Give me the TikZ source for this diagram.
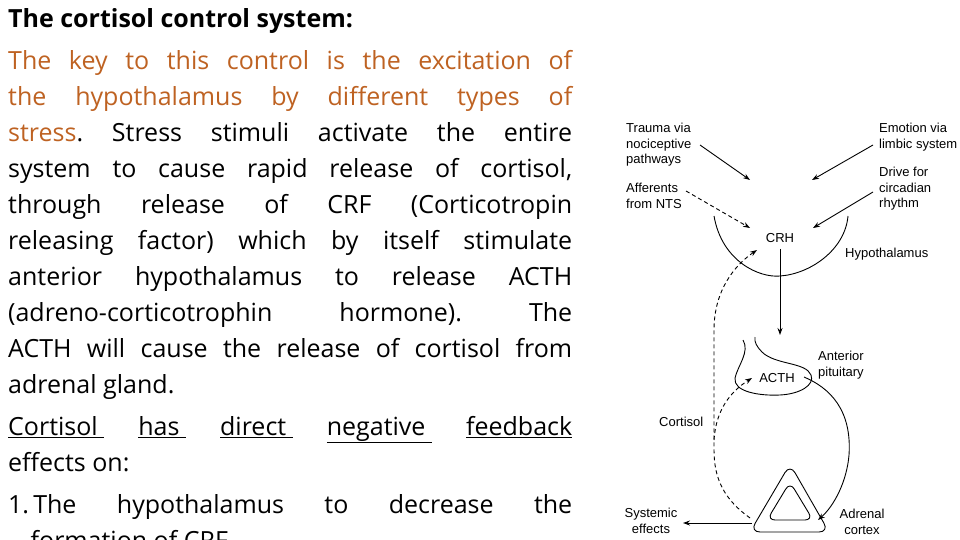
\documentclass[tikz,border=0pt]{standalone}
\usepackage{fontspec}
\setmainfont{Open Sans}
\newfontfamily\diag{Liberation Sans}
\usetikzlibrary{arrows.meta}
\definecolor{ortxt}{RGB}{190,98,34}
\frenchspacing
\begin{document}
\begin{tikzpicture}[x=1pt,y=-1pt,
  lbl/.style={font=\diag\fontsize{13}{15.5}\selectfont,inner sep=0pt,align=left},
  conn/.style={line width=0.9pt,-{Stealth[length=7pt,width=5pt]}},
  dconn/.style={conn,dash pattern=on 4pt off 3pt},
  shp/.style={line width=0.9pt}]
\useasboundingbox (0,0) rectangle (960,540);
\begin{scope}
\clip (0,0) rectangle (960,540);
\node[anchor=north west,inner sep=0pt,text width=564pt,align=justify,
  font=\fontsize{25}{36}\selectfont] (txt) at (8,8) {%
\hyphenpenalty=10000\exhyphenpenalty=10000\frenchspacing
\parskip=6pt\noindent\textbf{The cortisol control system:}\par
\noindent\textcolor{ortxt}{The key to this control is the excitation of\linebreak the hypothalamus by different types of\linebreak stress}. Stress stimuli activate the entire\linebreak system to cause rapid release of cortisol,\linebreak through release of CRF (Corticotropin\linebreak releasing factor) which by itself stimulate\linebreak anterior hypothalamus to release ACTH\linebreak (adreno-corticotrophin hormone). The\linebreak ACTH will cause the release of cortisol from\linebreak adrenal gland.\par
\noindent\underline{Cortisol\ }\hfill\underline{has\ }\hfill\underline{direct\ }\hfill\underline{negative\ }\hfill\underline{feedback}\linebreak
effects on:\par
\noindent 1.\,The hypothalamus to decrease the\linebreak
\hspace*{0.9em}formation of CRF\par};
\end{scope}
% diagram labels
\node[lbl,anchor=west] (trauma) at (626,145) {Trauma via\\nociceptive\\pathways};
\node[lbl,anchor=west] (aff) at (626,196) {Afferents\\from NTS};
\node[lbl,anchor=west] (emo) at (879,137) {Emotion via\\limbic system};
\node[lbl,anchor=west] (drive) at (879,189) {Drive for\\circadian\\rhythm};
\node[lbl] (crh) at (780,238) {CRH};
\node[lbl,anchor=west] (hyp) at (845,254) {Hypothalamus};
\node[lbl,anchor=west] (ant) at (818,365) {Anterior\\pituitary};
\node[lbl] (acth) at (777,378) {ACTH};
\node[lbl,anchor=west] (cort) at (659,422) {Cortisol};
\node[lbl,align=center] (sys) at (651,521) {Systemic\\effects};
\node[lbl,align=center] (adr) at (862,522) {Adrenal\\cortex};
\coordinate (t0) at (700,145);
\coordinate (t1) at (750,180);
\coordinate (e1) at (812,180);
\coordinate (a0) at (686,191);
\coordinate (a1) at (750,228);
\coordinate (d1) at (813,228);
\draw[conn] (t0) -- (t1);
\draw[conn] (873,145) -- (e1);
\draw[dconn] (a0) -- (a1);
\draw[conn] (873,192) -- (d1);
% hypothalamus
\draw[shp] (714,216) .. controls (722,262) and (760,278) .. (780,276) .. controls (810,274) and (845,250) .. (848,216);
\coordinate (pit) at (780,335);
\draw[conn] (crh.south) ++(0,6) -- (pit);
% pituitary
\draw[shp] (743,340) .. controls (750,352) and (738,365) .. (735,378) .. controls (733,392) and (760,396) .. (780,395) .. controls (800,394) and (815,385) .. (811,375) .. controls (806,362) and (775,365) .. (762,352) .. controls (757,347) and (754,342) .. (755,337);
% adrenal
\draw[shp,rounded corners=10pt] (790,464) -- (829,532) -- (750,532) -- cycle;
\draw[shp,rounded corners=8pt] (790,482) -- (813,520) -- (767,520) -- cycle;
\coordinate (adrin) at (818,520);
\draw[conn] (804,377) .. controls (830,388) and (852,410) .. (849,455) .. controls (847,480) and (835,505) .. (adrin);
% cortisol feedback
\coordinate (cbase) at (750,518);
\draw[dconn] (cbase) .. controls (725,500) and (714,480) .. (714,450) -- (714,330) .. controls (714,290) and (735,265) .. (757,250);
\draw[dconn] (714,440) .. controls (716,410) and (730,392) .. (752,378);
\coordinate (seff) at (683,523);
\draw[conn] (752,523) -- (seff);
\end{tikzpicture}
\end{document}
